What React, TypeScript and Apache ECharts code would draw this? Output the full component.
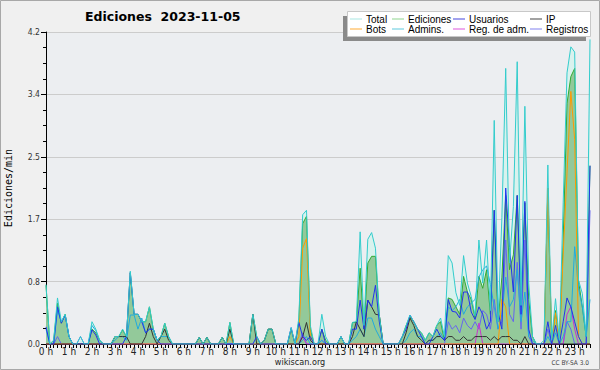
import React, { useEffect, useRef } from "react";
import * as echarts from "echarts";

// 10-minute samples, one row per hour (00:00 .. 23:40)
const totalData = [
  0.80, 0, 0.05, 0.62, 0.30, 0.40,
  0.10, 0, 0, 0.10, 0, 0,
  0.30, 0.20, 0.05, 0, 0, 0,
  0.10, 0.10, 0.20, 0.10, 0.98, 0.40,
  0.40, 0.30, 0.30, 0.50, 0.20, 0.05,
  0.10, 0.28, 0.10, 0, 0, 0,
  0, 0, 0, 0, 0.09, 0,
  0.09, 0, 0, 0, 0.09, 0,
  0.29, 0, 0, 0, 0, 0,
  0.40, 0.10, 0, 0.05, 0.20, 0.20,
  0, 0, 0, 0, 0.22, 0,
  0.35, 1.74, 1.80, 0.25, 0, 0,
  0.40, 0.10, 0, 0, 0, 0.10,
  0, 0, 0.29, 0.30, 1.51, 0.25,
  1.41, 1.50, 1.29, 0.39, 0, 0,
  0, 0, 0, 0.10, 0.25, 0.39,
  0.30, 0.20, 0.15, 0.05, 0.15, 0.10,
  0.25, 0.35, 0.10, 1.19, 1.09, 0.69,
  0.52, 1.19, 0.82, 0.64, 0.38, 1.40,
  0.82, 1.40, 0.45, 3.01, 0.30, 1.70,
  3.71, 1.09, 1.85, 3.80, 0.52, 3.20,
  0.82, 0.10, 0, 0, 0.05, 2.41,
  0.05, 0.61, 0.05, 1.90, 3.65, 4.00,
  3.93, 0.86, 0.68, 0.10, 4.10,
];

const edicionesData = [
  0.79, 0, 0.05, 0.55, 0.28, 0.40,
  0.10, 0, 0, 0, 0, 0,
  0.20, 0.15, 0.05, 0, 0, 0,
  0.10, 0.10, 0.19, 0.10, 0.96, 0.40,
  0.40, 0.30, 0.30, 0.50, 0.20, 0.05,
  0.10, 0.28, 0.10, 0, 0, 0,
  0, 0, 0, 0, 0.09, 0,
  0.09, 0, 0, 0, 0.09, 0,
  0.29, 0, 0, 0, 0, 0,
  0.40, 0.10, 0, 0.05, 0.20, 0.20,
  0, 0, 0, 0, 0.20, 0,
  0.30, 1.62, 1.72, 0.20, 0, 0,
  0.20, 0.05, 0, 0, 0, 0.10,
  0, 0, 0.29, 0.29, 1.02, 0.20,
  1.09, 1.18, 1.18, 0.39, 0, 0,
  0, 0, 0, 0.10, 0.25, 0.37,
  0.30, 0.20, 0.15, 0.05, 0.15, 0.10,
  0.25, 0.30, 0.05, 0.62, 0.60, 0.50,
  0.40, 0.91, 0.70, 0.60, 0.35, 0.91,
  0.75, 1.00, 0.40, 1.80, 0.30, 0.90,
  2.00, 1.00, 1.20, 2.00, 0.50, 1.90,
  0.60, 0.10, 0, 0, 0, 2.10,
  0, 0.45, 0, 1.40, 3.24, 3.60,
  3.71, 0.85, 0.50, 0.10, 2.40,
];

const usuariosData = [
  0.23, 0, 0, 0.50, 0.28, 0.39,
  0.10, 0, 0, 0, 0, 0,
  0.19, 0.12, 0, 0, 0, 0,
  0, 0, 0, 0.10, 0.96, 0.40,
  0.40, 0.30, 0.15, 0.20, 0.20, 0.05,
  0, 0, 0, 0, 0, 0,
  0, 0, 0, 0, 0, 0,
  0, 0, 0, 0, 0, 0,
  0, 0, 0, 0, 0, 0,
  0, 0.10, 0, 0, 0, 0,
  0, 0, 0, 0, 0.22, 0,
  0.29, 0.10, 0.05, 0.10, 0, 0,
  0.20, 0, 0, 0, 0, 0.10,
  0, 0, 0.20, 0.20, 0.59, 0.20,
  0.59, 0.50, 0.79, 0.30, 0, 0,
  0, 0, 0, 0.10, 0.20, 0.39,
  0.30, 0.20, 0.10, 0, 0, 0.10,
  0.20, 0.10, 0.05, 0.60, 0.44, 0.43,
  0.35, 0.70, 0.70, 0.43, 0.33, 0.50,
  0.40, 0.20, 0.30, 1.80, 0.43, 0.20,
  2.10, 1.30, 0.70, 2.00, 0.40, 1.92,
  0.20, 0, 0, 0, 0, 0.30,
  0, 0.25, 0, 0.30, 0.62, 0.50,
  0.30, 0.10, 0, 0, 2.40,
];

const ipData = [
  0, 0, 0, 0, 0, 0,
  0, 0, 0, 0, 0, 0,
  0, 0, 0, 0, 0, 0,
  0.10, 0.10, 0.10, 0.10, 0, 0,
  0, 0, 0.10, 0.28, 0.10, 0,
  0.10, 0.20, 0.05, 0, 0, 0,
  0, 0, 0, 0, 0.09, 0,
  0.09, 0, 0, 0, 0.09, 0,
  0.20, 0, 0, 0, 0, 0,
  0.40, 0, 0, 0.05, 0.20, 0.20,
  0, 0, 0, 0, 0, 0,
  0, 0.10, 0.29, 0.05, 0, 0,
  0, 0, 0, 0, 0, 0,
  0, 0, 0.10, 0.30, 0.20, 0.10,
  0.59, 0.50, 0.40, 0.39, 0, 0,
  0, 0, 0, 0, 0.15, 0.35,
  0.25, 0.10, 0.05, 0, 0.05, 0.05,
  0.10, 0.10, 0.05, 0.10, 0.10, 0.05,
  0.05, 0.10, 0.05, 0.05, 0.10, 0.10,
  0.10, 0.10, 0.05, 0.10, 0.05, 0.10,
  0.10, 0.10, 0.05, 0.05, 0, 0.10,
  0, 0, 0, 0, 0, 0,
  0, 0, 0, 0, 0, 0,
  0, 0, 0, 0, 0,
];

const botsData = [
  0, 0, 0, 0, 0, 0,
  0, 0, 0, 0, 0, 0,
  0, 0, 0, 0, 0, 0,
  0, 0, 0, 0, 0, 0,
  0, 0, 0, 0, 0, 0,
  0, 0, 0, 0, 0, 0,
  0, 0, 0, 0, 0, 0,
  0, 0, 0, 0, 0, 0,
  0.10, 0, 0, 0, 0, 0,
  0, 0, 0, 0, 0, 0,
  0, 0, 0, 0, 0, 0,
  0.10, 1.29, 1.42, 0.10, 0, 0,
  0, 0, 0, 0, 0, 0,
  0, 0, 0, 0, 0, 0,
  0, 0, 0, 0, 0, 0,
  0, 0, 0, 0, 0, 0,
  0, 0, 0, 0, 0, 0,
  0, 0, 0, 0, 0, 0,
  0, 0, 0, 0, 0, 0,
  0, 0, 0, 0, 0, 0.60,
  0.50, 0, 0, 0, 0, 0,
  0, 0, 0, 0, 0, 2.10,
  0, 0.42, 0, 1.20, 2.30, 3.40,
  2.75, 0.10, 0, 0, 0,
];

const adminsData = [
  0.20, 0, 0, 0.45, 0.30, 0.39,
  0.10, 0, 0, 0, 0, 0,
  0.25, 0.18, 0.05, 0, 0, 0,
  0.05, 0.10, 0.10, 0.05, 0.39, 0.39,
  0.20, 0.35, 0.15, 0.20, 0.20, 0.05,
  0.10, 0.10, 0.10, 0, 0, 0,
  0, 0, 0, 0, 0, 0,
  0, 0, 0, 0, 0, 0,
  0, 0, 0, 0, 0, 0,
  0, 0, 0, 0, 0, 0,
  0, 0, 0, 0, 0, 0,
  0, 0.05, 0.10, 0, 0, 0,
  0.05, 0, 0, 0, 0, 0,
  0, 0, 0.05, 0.10, 0.20, 0.10,
  0.35, 0.35, 0.20, 0.10, 0, 0,
  0, 0, 0, 0, 0.05, 0.15,
  0.20, 0.10, 0.10, 0, 0.05, 0.05,
  0.10, 0.15, 0.05, 0.50, 0.45, 0.50,
  0.60, 0.40, 0.50, 0.55, 0.60, 0.90,
  1.00, 1.05, 0.80, 0.50, 0.20, 0.40,
  0.90, 0.50, 0.60, 1.00, 0.30, 0.70,
  0.10, 0.05, 0, 0, 0, 0.10,
  0, 0.15, 0, 0.10, 0.30, 0.30,
  1.31, 0.75, 0.50, 0.10, 0.60,
];

const regAdmData = [
  0, 0, 0, 0, 0, 0,
  0, 0, 0, 0, 0, 0,
  0, 0, 0, 0, 0, 0,
  0, 0, 0, 0, 0, 0,
  0, 0, 0, 0, 0, 0,
  0, 0, 0, 0, 0, 0,
  0, 0, 0, 0, 0, 0,
  0, 0, 0, 0, 0, 0,
  0, 0, 0, 0, 0, 0,
  0, 0, 0, 0, 0, 0,
  0, 0, 0, 0, 0, 0,
  0, 0.10, 0, 0, 0, 0,
  0, 0, 0, 0, 0, 0,
  0, 0, 0, 0, 0, 0,
  0, 0, 0, 0, 0, 0,
  0, 0, 0, 0, 0, 0,
  0, 0, 0, 0, 0, 0,
  0, 0, 0, 0, 0, 0,
  0, 0, 0, 0, 0, 0.28,
  0, 0, 0, 0, 0, 0,
  0, 0, 0, 0, 0, 0,
  0, 0, 0, 0, 0, 0,
  0, 0, 0, 0, 0.40, 0.50,
  0.20, 0, 0, 0, 0,
];

const registrosData = [
  0, 0, 0, 0.10, 0, 0,
  0, 0, 0, 0.10, 0, 0,
  0, 0, 0, 0, 0, 0,
  0, 0, 0, 0, 0, 0,
  0, 0, 0, 0, 0, 0,
  0, 0, 0, 0, 0, 0,
  0, 0, 0, 0, 0, 0,
  0, 0, 0, 0, 0, 0,
  0, 0, 0, 0, 0, 0,
  0, 0, 0, 0, 0, 0,
  0, 0, 0, 0, 0, 0,
  0, 0.15, 0, 0, 0, 0,
  0.05, 0, 0, 0, 0, 0,
  0, 0, 0, 0, 0, 0,
  0, 0, 0, 0, 0, 0,
  0, 0, 0, 0, 0, 0,
  0, 0, 0, 0, 0, 0,
  0, 0, 0, 0.30, 0.20, 0.25,
  0.15, 0.35, 0.25, 0.20, 0.30, 0.20,
  0.45, 0.40, 0.20, 0.60, 0.20, 0.30,
  1.40, 0.40, 0.30, 1.10, 0.20, 1.40,
  0.10, 0, 0, 0, 0, 0.20,
  0, 0, 0, 0, 0.30, 0.20,
  0, 0, 0, 0, 1.80,
];

const yTicks = [0, 0.84, 1.68, 2.52, 3.36, 4.2];

const legendColumns = [
  ["Total", "Bots"],
  ["Ediciones", "Admins."],
  ["Usuarios", "Reg. de adm."],
  ["IP", "Registros"],
];
const legendLeft = [350, 392, 453, 530];

const lineColors: Record<string, string> = {
  Total: "#33cccc",
  Ediciones: "#33aa33",
  Usuarios: "#2233ee",
  IP: "#333333",
  Bots: "#ff9900",
  "Admins.": "#22aadd",
  "Reg. de adm.": "#cc33cc",
  Registros: "#6666ee",
};
const legendColors: Record<string, string> = {
  Total: "#a8e6e2",
  Ediciones: "#8fd48f",
  Usuarios: "#4444dd",
  IP: "#444444",
  Bots: "#ffaa33",
  "Admins.": "#5cc8dc",
  "Reg. de adm.": "#dd55dd",
  Registros: "#8080ee",
};

const SANS = "'DejaVu Sans Condensed', 'Liberation Sans', sans-serif";
const LEG = "'Liberation Sans', sans-serif";

export default function App() {
  const ref = useRef<HTMLDivElement>(null);
  useEffect(() => {
    document.body.style.margin = "0";
    if (!ref.current) return;
    const chart = echarts.init(ref.current, undefined, { renderer: "svg" });

    const times: string[] = [];
    for (let h = 0; h < 24; h++) {
      for (let m = 0; m < 60; m += 10) {
        times.push(`${h}:${m < 10 ? "0" + m : m}`);
      }
    }
    const cats = times.slice(0, totalData.length);

    const mkLine = (name: string, data: number[], z: number) => ({
      name,
      type: "line",
      data,
      symbol: "none",
      showSymbol: false,
      z,
      lineStyle: { color: lineColors[name], width: 1 },
      itemStyle: { color: lineColors[name] },
    });

    const legends = legendColumns.map((col, ci) => ({
      orient: "vertical",
      left: legendLeft[ci],
      top: 14,
      itemWidth: 12,
      itemHeight: 1,
      itemGap: 0,
      icon: "rect",
      selectedMode: false,
      z: 5,
      textStyle: {
        fontFamily: LEG,
        fontSize: 10,
        color: "#000",
        lineHeight: 10,
        padding: [0, 0, 0, -1],
      },
      padding: 0,
      data: col.map((n) => ({
        name: n,
        icon: "rect",
        itemStyle: { color: legendColors[n] },
      })),
    }));

    chart.setOption({
      animation: false,
      backgroundColor: "#f0f0f0",
      title: {
        text: "Ediciones  2023-11-05",
        left: 85,
        top: 10,
        padding: 0,
        textStyle: {
          fontFamily: "'DejaVu Sans', sans-serif",
          fontWeight: "bold",
          fontSize: 12.5,
          color: "#000",
        },
      },
      legend: legends,
      grid: {
        left: 46,
        right: 10,
        top: 32,
        bottom: 26,
        containLabel: false,
        outerBoundsMode: "none",
        show: true,
        backgroundColor: "#eceef1",
        borderWidth: 0,
      },
      xAxis: {
        type: "category",
        data: cats,
        boundaryGap: false,
        axisLine: { show: true, lineStyle: { color: "#000", width: 1 } },
        axisTick: { show: true, interval: 0, length: 4, lineStyle: { color: "#000" } },
        axisLabel: {
          interval: (index: number) => index % 6 === 0,
          formatter: (value: string) => `${value.split(":")[0]} h`,
          fontFamily: SANS,
          fontSize: 10,
          lineHeight: 10,
          color: "#222",
          margin: 2,
        },
        splitLine: { show: false },
      },
      yAxis: {
        type: "value",
        min: 0,
        max: yTicks[yTicks.length - 1],
        interval: yTicks[1],
        name: "Ediciones/min",
        nameLocation: "middle",
        nameGap: 33,
        nameRotate: 90,
        nameTextStyle: {
          fontFamily: "'DejaVu Sans Mono', monospace",
          fontSize: 10,
          color: "#000",
        },
        axisLine: { show: true, lineStyle: { color: "#000", width: 1 } },
        axisTick: { show: true, length: 5, lineStyle: { color: "#000" } },
        minorTick: { show: true, splitNumber: 4, length: 3, lineStyle: { color: "#000" } },
        axisLabel: {
          formatter: (v: number) => v.toFixed(1),
          fontFamily: SANS,
          fontSize: 8.5,
          color: "#333",
          margin: 6,
        },
        splitLine: { show: true, lineStyle: { color: "#cccccc", width: 1 } },
      },
      graphic: [
        {
          type: "rect",
          shape: { x: 0.5, y: 0.5, width: 599, height: 369 },
          style: { fill: "none", stroke: "#a8a8a8", lineWidth: 1 },
          silent: true,
          z: 10,
        },
        {
          type: "rect",
          shape: { x: 343, y: 16, width: 243, height: 25 },
          style: { fill: "#8a8a8a" },
          silent: true,
          z: 3,
        },
        {
          type: "rect",
          shape: { x: 347.5, y: 11.5, width: 243, height: 25 },
          style: { fill: "#ffffff", stroke: "#c8c8c8", lineWidth: 1 },
          silent: true,
          z: 4,
        },
        {
          type: "text",
          x: 300,
          y: 357,
          style: {
            text: "wikiscan.org",
            fontFamily: SANS,
            fontSize: 9,
            lineHeight: 9,
            align: "center",
            verticalAlign: "top",
            fill: "#222",
          },
          z: 6,
        },
        {
          type: "text",
          x: 589,
          y: 359,
          style: {
            text: "CC BY-SA 3.0",
            fontFamily: SANS,
            fontSize: 6.5,
            lineHeight: 7,
            align: "right",
            verticalAlign: "top",
            fill: "#444",
          },
          z: 6,
        },
      ],
      series: [
        {
          name: "TotalFill",
          type: "line",
          data: totalData,
          symbol: "none",
          showSymbol: false,
          z: 1,
          lineStyle: { width: 0, opacity: 0 },
          areaStyle: { color: "#d9f2ee", opacity: 1 },
          silent: true,
        },
        {
          ...mkLine("Ediciones", edicionesData, 2),
          areaStyle: { color: "#93c99a", opacity: 1 },
        },
        mkLine("Registros", registrosData, 3),
        mkLine("Reg. de adm.", regAdmData, 3),
        mkLine("Admins.", adminsData, 3),
        mkLine("Bots", botsData, 3),
        mkLine("IP", ipData, 3),
        mkLine("Usuarios", usuariosData, 3),
        mkLine("Total", totalData, 4),
      ],
    });
    return () => chart.dispose();
  }, []);
  return <div ref={ref} style={{ width: 600, height: 370 }} />;
}
